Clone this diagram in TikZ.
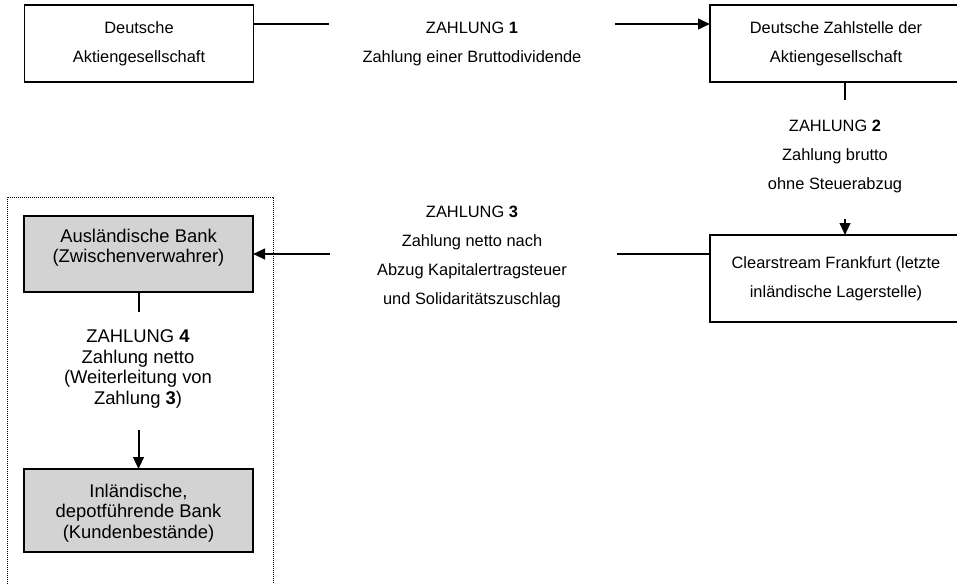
\documentclass[tikz,border=0pt]{standalone}
\usepackage{fontspec}
\setmainfont{Liberation Sans}
\usetikzlibrary{arrows.meta}
\definecolor{bankgray}{RGB}{211,211,211}
\tikzset{
  flowbox/.style={draw, line width=1pt, inner sep=0pt, outer sep=0pt, align=center,
    font=\fontsize{12.3}{21.75}\selectfont},
  bankbox/.style={draw, fill=bankgray, line width=1pt, inner sep=0pt, outer sep=0pt},
  payment/.style={inner sep=0pt, align=center, font=\fontsize{12.3}{21.75}\selectfont},
  banktext/.style={inner sep=0pt, align=center, font=\fontsize{13.8}{15.4}\selectfont},
  conn/.style={line width=1.5pt},
  flow/.style={line width=1.5pt, -{Triangle[length=9pt,width=8pt]}}
}
\begin{document}
\begin{tikzpicture}[x=0.75pt,y=-0.75pt]
  \useasboundingbox (0,0) rectangle (957,583);
  \clip (0,0) rectangle (957,583);

  % boxes
  \node [flowbox, minimum width=171.75pt, minimum height=57.75pt] (ag) at (139,43.5) {Deutsche\\Aktiengesellschaft};
  \node [flowbox, minimum width=189pt, minimum height=57.75pt] (zahlstelle) at (836,43.5) {Deutsche Zahlstelle der\\Aktiengesellschaft};
  \node [flowbox, minimum width=189pt, minimum height=65.25pt] (clearstream) at (836,278.5) {Clearstream Frankfurt (letzte\\inländische Lagerstelle)};
  \node [bankbox, minimum width=171.75pt, minimum height=57pt] (auslbank) at (138.5,254) {};
  \node [banktext] (auslbanktext) at (138.5,247.5) {Ausländische Bank\\(Zwischenverwahrer)};
  \node [bankbox, minimum width=171.75pt, minimum height=62.25pt] (inlbank) at (138.5,510.5) {};
  \node [banktext] (inlbanktext) at (138.5,513) {Inländische,\\depotführende Bank\\(Kundenbestände)};

  % payment labels
  \node [payment] (zahlung1) at (472,44) {ZAHLUNG \textbf{1}\\Zahlung einer Bruttodividende};
  \node [payment] (zahlung2) at (835,156) {ZAHLUNG \textbf{2}\\Zahlung brutto\\ohne Steuerabzug};
  \node [payment] (zahlung3) at (472,257) {ZAHLUNG \textbf{3}\\Zahlung netto nach\\Abzug Kapitalertragsteuer\\und Solidaritätszuschlag};
  \node [banktext] (zahlung4) at (138,369) {ZAHLUNG \textbf{4}\\Zahlung netto\\(Weiterleitung von\\Zahlung \textbf{3})};

  % connectors
  \coordinate (gap1l) at (329,24);
  \coordinate (gap1r) at (615,24);
  \draw [conn] (ag.east |- gap1l) -- (gap1l);
  \draw [flow] (gap1r) -- (zahlstelle.west |- gap1r);

  \coordinate (gap2t) at (845,100);
  \coordinate (gap2b) at (845,219);
  \draw [conn] (gap2t |- zahlstelle.south) -- (gap2t);
  \draw [flow] (gap2b) -- (gap2b |- clearstream.north);

  \coordinate (gap3r) at (617,254);
  \coordinate (gap3l) at (330,254);
  \draw [conn] (clearstream.west |- gap3r) -- (gap3r);
  \draw [flow] (gap3l) -- (auslbank.east |- gap3l);

  \coordinate (gap4t) at (138.5,312);
  \coordinate (gap4b) at (138.5,430);
  \draw [conn] (auslbank.south) -- (gap4t);
  \draw [flow] (gap4b) -- (inlbank.north);

  % dotted frame round the banks
  \draw [line width=0.7pt, dash pattern=on 0.75pt off 0.75pt] (7,620) |- (273,197) -- (273,620);
\end{tikzpicture}
\end{document}
